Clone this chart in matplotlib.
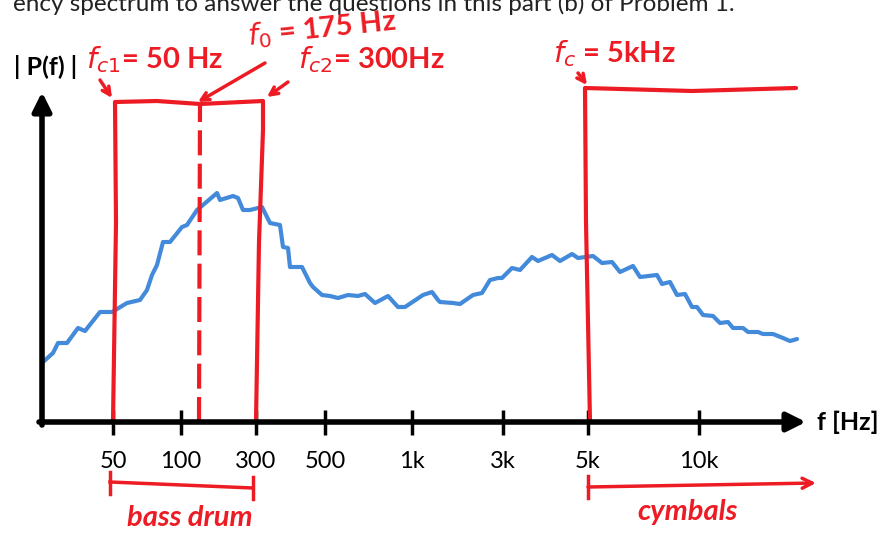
import numpy as np
import matplotlib.pyplot as plt

# ---------- data (axis units: x = sketch position, y = |P(f)|) ----------
tick_pos = [71, 139, 214, 283, 370, 461, 546, 657]
tick_labels = ["50", "100", "300", "500", "1k", "3k", "5k", "10k"]

spec_x = [1, 11, 16, 25, 36, 43, 58, 70, 85, 98, 105, 110, 115, 121, 128, 140, 145,
          155, 161, 175, 178, 191, 196, 201, 208, 220, 225, 228, 238, 241, 246, 248,
          260, 268, 271, 280, 288, 296, 306, 316, 323, 333, 346, 356, 363, 381, 390,
          396, 398, 411, 418, 431, 440, 448, 456, 460, 470, 478, 490, 496, 510, 518,
          530, 536, 551, 560, 570, 578, 591, 598, 615, 620, 628, 635, 643, 650, 655,
          661, 671, 678, 686, 691, 701, 706, 716, 721, 731, 741, 748, 755]
spec_y = [60, 69, 79, 79, 94, 91, 110, 110, 119, 122, 132, 147, 157, 180, 180, 195, 197,
          212, 217, 229, 222, 226, 224, 212, 212, 215, 205, 199, 197, 175, 174, 155,
          155, 139, 135, 127, 126, 124, 127, 126, 128, 119, 126, 115, 115, 127, 130,
          122, 120, 119, 118, 127, 129, 142, 144, 144, 154, 152, 165, 161, 167, 161,
          168, 164, 166, 159, 160, 150, 156, 145, 147, 138, 140, 127, 128, 115, 115,
          107, 106, 99, 100, 94, 94, 90, 90, 88, 88, 84, 81, 83]

# hand-drawn filter outlines
bp_x = [71, 74, 73, 115, 158, 221, 221, 217, 214]
bp_y = [0, 200, 320, 321, 318, 321, 292, 180, 0]
f0_x = [157, 158]
f0_y = [0, 318]
hp_x = [548, 544, 543, 650, 754]
hp_y = [0, 200, 334, 331, 334]

RED = "#ed1c24"
BLUE = "#448ada"

plt.rcParams['font.family'] = ['Lato', 'DejaVu Sans']

fig = plt.figure(figsize=(8.81, 5.37), dpi=100)
ax = fig.add_axes([0, 0, 1, 1])
ax.set_xlim(-42, 839)
ax.set_ylim(-115, 422)
ax.axis('off')

# cut-off sentence at the top (the source screenshot crops it)
ax.text(693, 411, "ency spectrum to answer the questions in this part (b) of Problem 1.",
        ha='right', va='baseline', fontsize=17.5, color='#222222')

# axes with arrows
ax.annotate('', xy=(0, 330), xytext=(0, -3),
            arrowprops=dict(arrowstyle='-|>', lw=4, color='k', mutation_scale=28,
                            shrinkA=0, shrinkB=0))
ax.annotate('', xy=(764, 0), xytext=(-3, 0),
            arrowprops=dict(arrowstyle='-|>', lw=4, color='k', mutation_scale=28,
                            shrinkA=0, shrinkB=0))
for p, lab in zip(tick_pos, tick_labels):
    ax.plot([p, p], [-13, 12], color='k', lw=2.5, solid_capstyle='butt')
    ax.text(p, -39, lab, ha='center', va='center', fontsize=17)

ax.text(4, 355, "| P(f) |", ha='center', va='center', fontsize=18, fontweight='bold')
ax.text(775, 0, "f [Hz]", ha='left', va='center', fontsize=18, fontweight='bold')

# spectrum
ax.plot(spec_x, spec_y, color=BLUE, lw=3, solid_joinstyle='round', solid_capstyle='round')

# filters
ax.plot(bp_x, bp_y, color=RED, lw=3, solid_joinstyle='round')
ax.plot(f0_x, f0_y, color=RED, lw=3, linestyle=(0, (6, 2)))
ax.plot(hp_x, hp_y, color=RED, lw=3, solid_joinstyle='round', solid_capstyle='round')

# red annotations
tkw = dict(color=RED, fontsize=21, fontweight='bold', va='center', ha='left')
ax.text(44, 362, r"$f_{c1}$= 50 Hz", **tkw)
ax.text(204, 393, r"$f_0$ = 175 Hz", rotation=6, **tkw)
ax.text(256, 362, r"$f_{c2}$= 300Hz", **tkw)
ax.text(511, 368, r"$f_c$ = 5kHz", **tkw)

akw = dict(arrowstyle='->', lw=2.5, color=RED, mutation_scale=14, shrinkA=0, shrinkB=0)
ax.annotate('', xy=(70, 324), xytext=(58, 342), arrowprops=akw)
ax.annotate('', xy=(156, 320), xytext=(223, 359), arrowprops=akw)
ax.annotate('', xy=(225, 325), xytext=(246, 340), arrowprops=akw)
ax.annotate('', xy=(545, 337), xytext=(536, 349), arrowprops=akw)

# bands under the axis
ax.plot([68, 211], [-60, -66], color=RED, lw=2.5)
ax.plot([68, 68], [-50, -72], color=RED, lw=2.5)
ax.plot([211, 211], [-55, -77], color=RED, lw=2.5)
ax.text(148, -96, "bass drum", color=RED, fontsize=21, ha='center', va='center',
        fontstyle='italic', fontweight='bold')
ax.plot([546, 546], [-54, -76], color=RED, lw=2.5)
ax.annotate('', xy=(774, -61), xytext=(546, -65),
            arrowprops=dict(arrowstyle='->', lw=2.5, color=RED, mutation_scale=18,
                            shrinkA=0, shrinkB=0))
ax.text(646, -90, "cymbals", color=RED, fontsize=21, ha='center', va='center',
        fontstyle='italic', fontweight='bold')

fig.savefig("out.png", dpi=100)
